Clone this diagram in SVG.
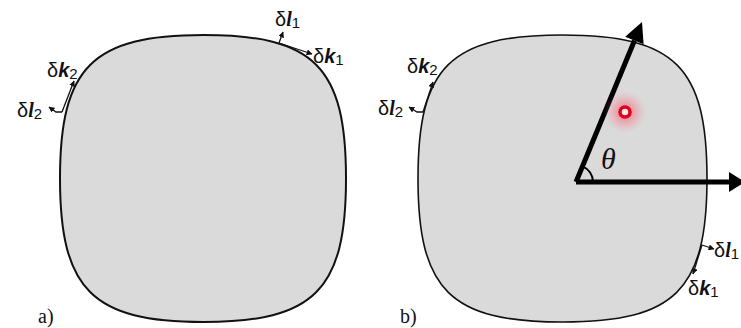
<svg xmlns="http://www.w3.org/2000/svg" width="741" height="328" viewBox="0 0 741 328">
<style>
.shape{fill:#dadada;stroke:#111;stroke-width:2}
.lbl{font-family:"Liberation Sans",Arial,sans-serif;font-size:20px;fill:#111}
.v{font-weight:bold;font-style:italic}
.vl{font-family:"Liberation Serif","Times New Roman",serif;font-weight:bold;font-style:italic}
.sub{font-size:15px}
.cap{font-family:"Liberation Serif","Times New Roman",serif;font-size:20px;fill:#111}
.thin{fill:none;stroke:#111;stroke-width:1.3;marker-end:url(#sm)}
.axis{fill:none;stroke:#000;stroke-width:5}
</style>
<defs>
<marker id="sm" viewBox="0 0 10 10" refX="9" refY="5" markerWidth="6" markerHeight="6" markerUnits="userSpaceOnUse" orient="auto">
<path d="M0 0 L10 5 L0 10 Z" fill="#111"/>
</marker>
<radialGradient id="glow">
<stop offset="0" stop-color="#ff3050" stop-opacity="0.7"/>
<stop offset="0.5" stop-color="#ff6070" stop-opacity="0.35"/>
<stop offset="1" stop-color="#ff8090" stop-opacity="0"/>
</radialGradient>
</defs>
<g id="shape-a">
<path class="shape" d="M203.5 35 C314.5 35 346 67 346 178.5 C346 290 314.5 322 203.5 322 C92.5 322 60 290 60 178.5 C60 67 92.5 35 203.5 35 Z"/>
</g>
<g id="shape-b">
<path class="shape" style="stroke-width:1.6" d="M562.5 35 C675 35 707 67 707 178.5 C707 290 675 322 562.5 322 C450 322 418 290 418 178.5 C418 67 450 35 562.5 35 Z"/>
</g>
<g id="connectors">
<path class="thin" d="M279 43 L312 54"/>
<path class="thin" d="M279 43 L283 32"/>
<path class="thin" d="M62 112 L74 81"/>
<path class="thin" d="M62 112 L56 112 L49 107"/>
<path class="thin" d="M423 112 L433 82"/>
<path class="thin" d="M423 112 L417 112 L409 107"/>
<path class="thin" d="M702 245 L714 249"/>
<path class="thin" d="M702 245 L693 274"/>
</g>
<g id="axes">
<line class="axis" x1="576" y1="182" x2="732" y2="182"/>
<polygon points="729,172 745,182 729,192" fill="#000"/>
<line class="axis" x1="576" y1="182" x2="634.5" y2="40.5"/>
<polygon points="642,22 643.6,44.3 625.2,36.7" fill="#000"/>
<path d="M593 182 A17 17 0 0 0 582.5 166.3" fill="none" stroke="#000" stroke-width="2"/>
<text x="601" y="169" font-family="Liberation Serif,'Times New Roman',serif" font-style="italic" font-size="30" fill="#111">θ</text>
</g>
<g id="dot">
<circle cx="625" cy="112" r="21" fill="url(#glow)"/>
<circle cx="625" cy="112" r="5" fill="#ffe8ea" stroke="#e0001a" stroke-width="3.5"/>
</g>
<g id="labels">
<text class="lbl" x="275" y="26">δ<tspan class="vl">l</tspan><tspan class="sub" dy="2">1</tspan></text>
<text class="lbl" x="313" y="63">δ<tspan class="v">k</tspan><tspan class="sub" dy="2">1</tspan></text>
<text class="lbl" x="47" y="77">δ<tspan class="v">k</tspan><tspan class="sub" dy="2">2</tspan></text>
<text class="lbl" x="17" y="117">δ<tspan class="vl">l</tspan><tspan class="sub" dy="2">2</tspan></text>
<text class="lbl" x="407" y="73">δ<tspan class="v">k</tspan><tspan class="sub" dy="2">2</tspan></text>
<text class="lbl" x="378" y="115">δ<tspan class="vl">l</tspan><tspan class="sub" dy="2">2</tspan></text>
<text class="lbl" x="714" y="257">δ<tspan class="vl">l</tspan><tspan class="sub" dy="2">1</tspan></text>
<text class="lbl" x="688" y="295">δ<tspan class="v">k</tspan><tspan class="sub" dy="2">1</tspan></text>
<text class="cap" x="38" y="323">a)</text>
<text class="cap" x="400" y="323">b)</text>
</g>
</svg>
